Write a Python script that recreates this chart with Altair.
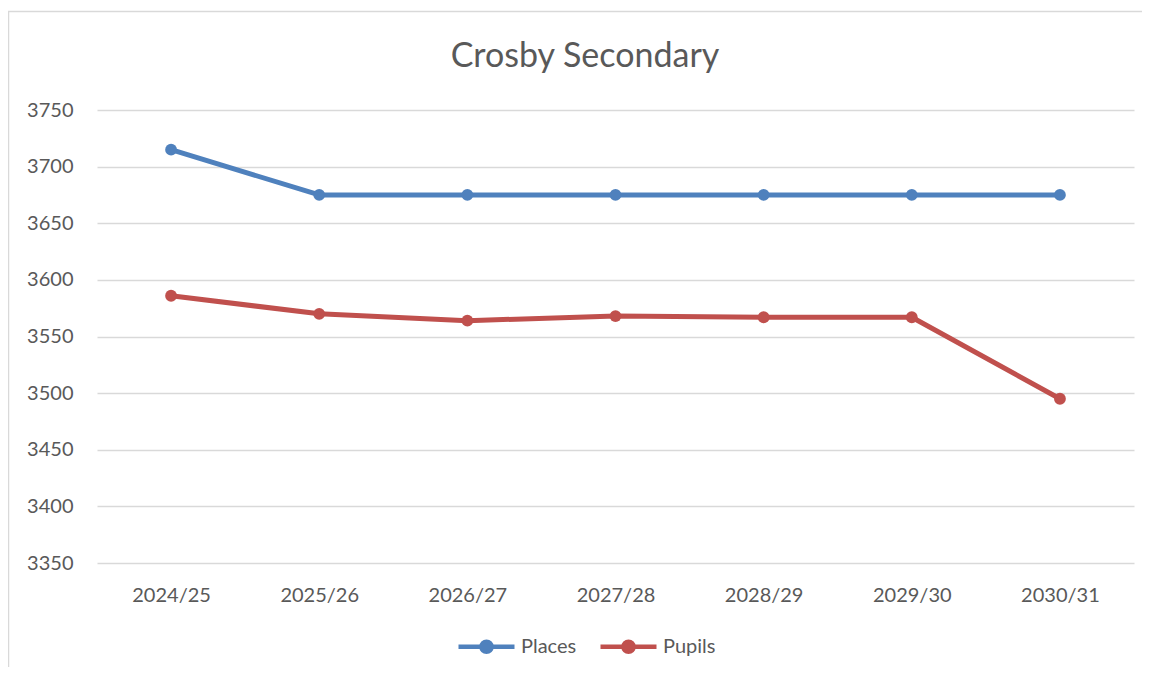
import altair as alt
import pandas as pd

years = ["2024/25", "2025/26", "2026/27", "2027/28", "2028/29", "2029/30", "2030/31"]
places = [3715, 3675, 3675, 3675, 3675, 3675, 3675]
pupils = [3586, 3570, 3564, 3568, 3567, 3567, 3495]
series_names = ["Places", "Pupils"]
series_colors = ["#4F81BD", "#C0504D"]
title_text = "Crosby Secondary"

rows = []
for y, v in zip(years, places):
    rows.append({"year": y, "series": "Places", "value": v})
for y, v in zip(years, pupils):
    rows.append({"year": y, "series": "Pupils", "value": v})
df = pd.DataFrame(rows)

FONT = "Lato"
GREY = "#595959"
W, H = 1037, 453

legend_path = ("M -1 0 L 1 0 "
               "M 0.18 0 A 0.18 0.18 0 1 1 -0.18 0 A 0.18 0.18 0 1 1 0.18 0 Z")

base = alt.Chart(df).encode(
    x=alt.X("year:N", sort=years, title=None,
            scale=alt.Scale(type="point", padding=0.5),
            axis=alt.Axis(labelAngle=0, labelFontSize=20, labelColor=GREY,
                          labelFont=FONT, ticks=False, domain=False,
                          grid=False, labelPadding=22)),
    y=alt.Y("value:Q", title=None,
            scale=alt.Scale(domain=[3350, 3750], nice=False, zero=False),
            axis=alt.Axis(values=list(range(3350, 3751, 50)), format="d",
                          labelFontSize=20, labelColor=GREY, labelFont=FONT,
                          ticks=False, domain=False, gridColor="#D9D9D9",
                          gridWidth=1.3, labelPadding=24)),
    color=alt.Color("series:N", sort=series_names,
                    scale=alt.Scale(domain=series_names, range=series_colors),
                    legend=alt.Legend(title=None, orient="none", direction="horizontal",
                                      legendX=359, legendY=506,
                                      symbolType=legend_path, symbolSize=3136,
                                      symbolStrokeWidth=4.5, labelFontSize=20,
                                      labelColor=GREY, labelFont=FONT,
                                      labelOffset=4, columnPadding=14)),
)

lines = base.mark_line(strokeWidth=5, strokeCap="round", strokeJoin="round")
points = base.mark_point(filled=True, size=140, opacity=1, shape="circle")

frame_df = pd.DataFrame({"a": [0]})
left_rule = alt.Chart(frame_df).mark_rule(color="#D9D9D9", strokeWidth=1.5).encode(
    x=alt.value(-88.5), y=alt.value(-98.5), y2=alt.value(H + 120))
top_rule = alt.Chart(frame_df).mark_rule(color="#D9D9D9", strokeWidth=1.5).encode(
    x=alt.value(-89), x2=alt.value(W + 20), y=alt.value(-98.5))
title = alt.Chart(frame_df).mark_text(
    text=title_text, font=FONT, fontSize=34, color=GREY, align="center",
    baseline="alphabetic").encode(x=alt.value(488), y=alt.value(-43))

chart = alt.layer(left_rule, top_rule, title, lines, points).properties(
    width=W, height=H,
    padding={"left": 89, "top": 102, "right": 8, "bottom": 104},
    autosize=alt.AutoSizeParams(type="none"),
).configure_view(stroke=None)

chart.save("out.html", embed_options={"renderer": "svg", "actions": False})
